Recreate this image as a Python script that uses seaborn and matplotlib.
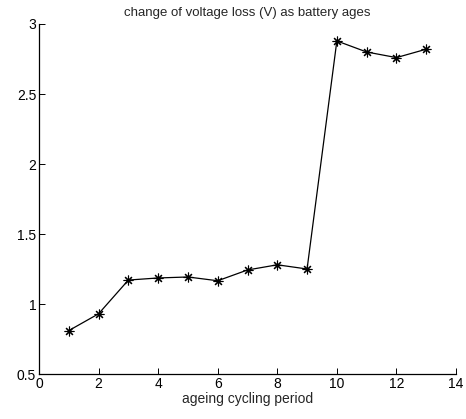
import matplotlib
matplotlib.use("Agg")
import matplotlib.pyplot as plt
import seaborn as sns
import pandas as pd

# ageing cycle index and measured voltage loss (V)
periods = [1, 2, 3, 4, 5, 6, 7, 8, 9, 10, 11, 12, 13]
voltage_loss = [0.81, 0.93, 1.171, 1.186, 1.193, 1.166, 1.243, 1.28, 1.25,
                2.879, 2.80, 2.76, 2.82]
x_ticks = [0, 2, 4, 6, 8, 10, 12, 14]
y_ticks = [0.5, 1, 1.5, 2, 2.5, 3]
y_tick_labels = ["0.5", "1", "1.5", "2", "2.5", "3"]

sns.set_style("ticks")
plt.rcParams["font.family"] = ["Liberation Sans", "DejaVu Sans"]
plt.rcParams["xtick.direction"] = "in"
plt.rcParams["ytick.direction"] = "in"

df = pd.DataFrame({"period": periods, "loss": voltage_loss})

fig = plt.figure(figsize=(4.66, 4.19), dpi=100)
ax = fig.add_axes([39 / 466, 45 / 419, 417 / 466, 350 / 419])

# eight-spoke asterisk marker
sns.lineplot(data=df, x="period", y="loss", ax=ax, color="black",
             linewidth=0.9, marker=(8, 2, 0), markersize=7,
             markerfacecolor="black", markeredgecolor="black", markeredgewidth=0.8)

ax.set_xlim(0, 14)
ax.set_ylim(0.5, 3)
ax.set_xticks(x_ticks)
ax.set_xticklabels([str(t) for t in x_ticks])
ax.set_yticks(y_ticks)
ax.set_yticklabels(y_tick_labels)
ax.tick_params(axis="both", labelsize=10, length=4, width=0.7, pad=2,
               colors="black")
for side in ("top", "right"):
    ax.spines[side].set_visible(False)
for side in ("left", "bottom"):
    ax.spines[side].set_linewidth(0.9)
    ax.spines[side].set_color("black")

ax.set_xlabel("ageing cycling period", fontsize=10, labelpad=1)
ax.set_ylabel("")
ax.set_title("change of voltage loss (V) as battery ages", fontsize=9.5, pad=6)

fig.savefig("out.png", dpi=100)
